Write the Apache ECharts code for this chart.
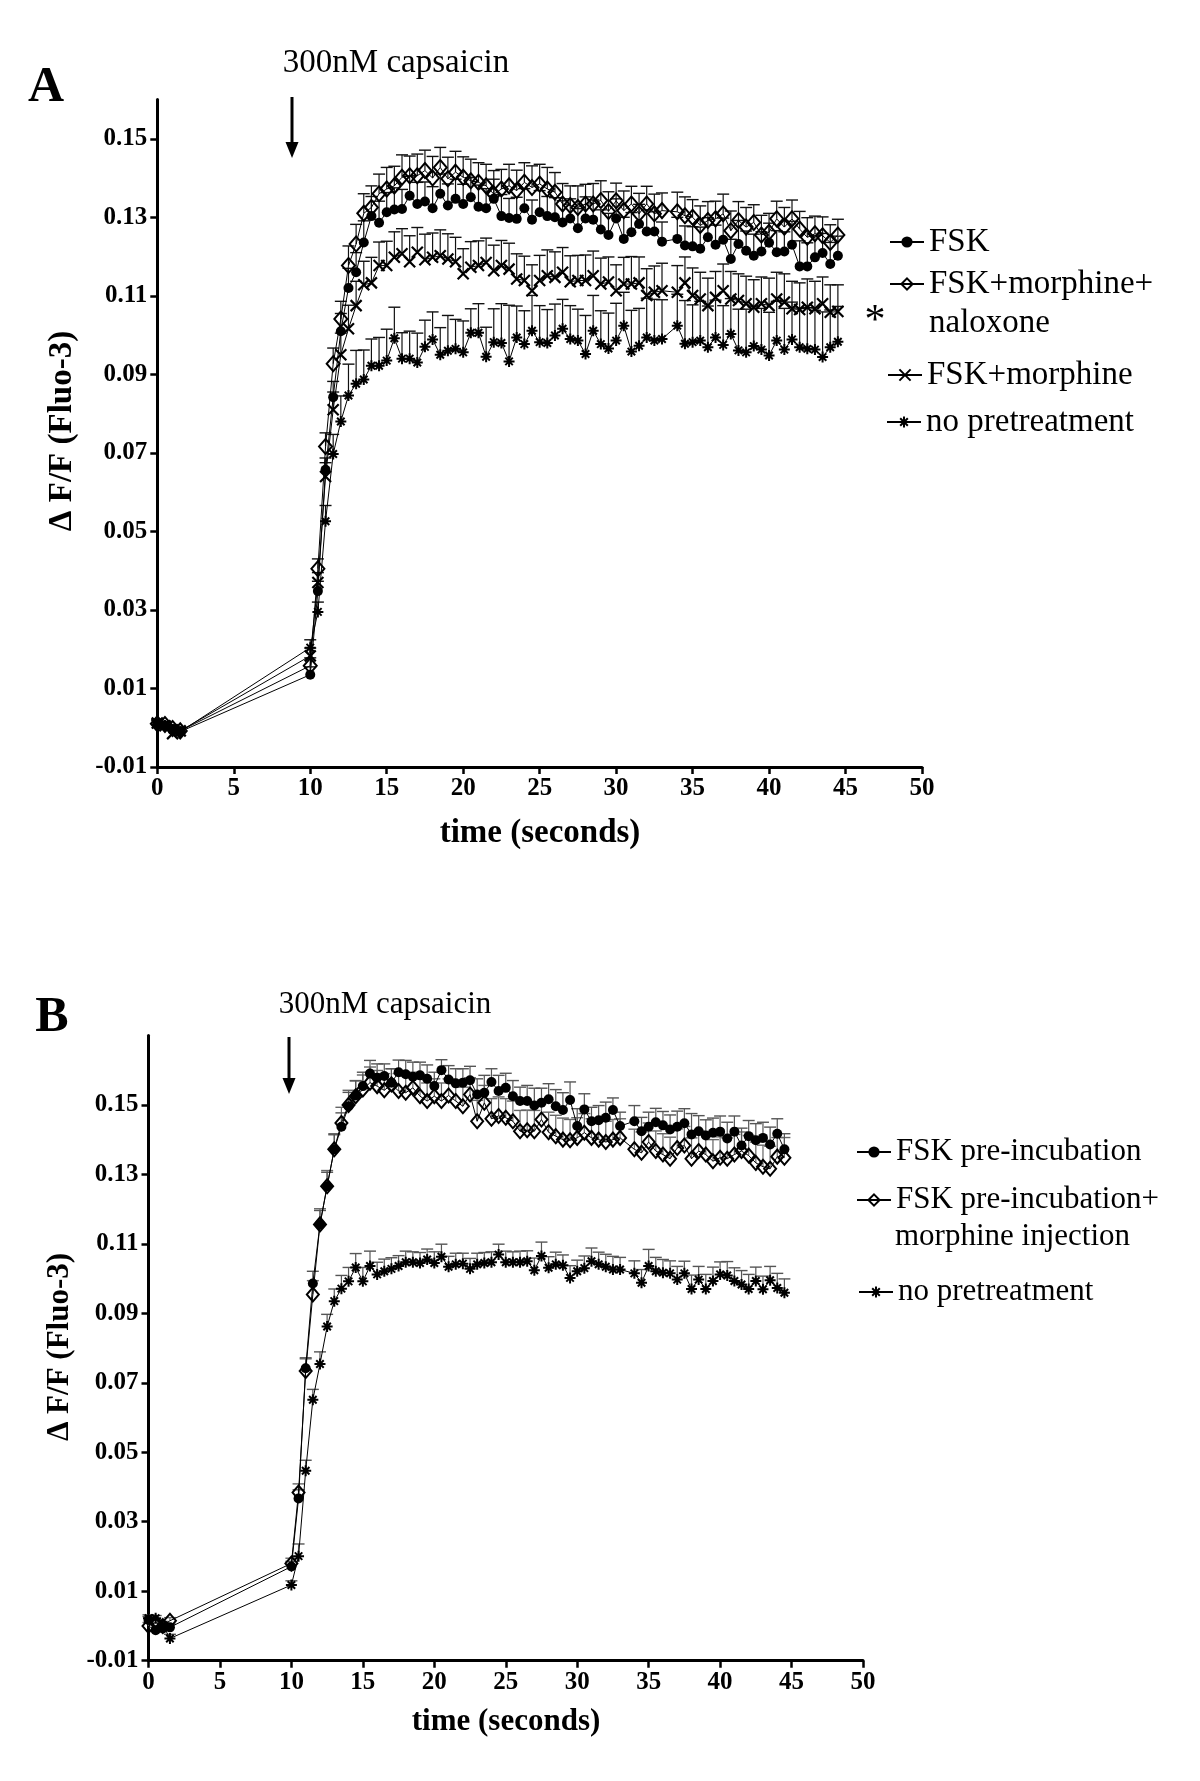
<!DOCTYPE html>
<html><head><meta charset="utf-8">
<script src="https://cdn.jsdelivr.net/npm/echarts@6/dist/echarts.min.js"></script>
<style>html,body{margin:0;padding:0;background:#fff}#c{width:1200px;height:1781px}</style>
</head><body><div id="c"></div>
<script>
const FONT = '"Liberation Serif","Times New Roman",serif';

// ---------- ticks ----------
const xTicks = [0,5,10,15,20,25,30,35,40,45,50];
const yTicks = [-0.01,0.01,0.03,0.05,0.07,0.09,0.11,0.13,0.15];

// ---------- panel A ----------
const timesA = [0,0.5,1,1.5,
 10,10.5,11,11.5,12,12.5,13,13.5,14,14.5,
 15,15.5,16,16.5,17,17.5,18,18.5,19,19.5,
 20,20.5,21,21.5,22,22.5,23,23.5,24,24.5,
 25,25.5,26,26.5,27,27.5,28,28.5,29,29.5,
 30,30.5,31,31.5,32,32.5,33,
 34,34.5,35,35.5,36,36.5,37,37.5,38,38.5,
 39,39.5,40,40.5,41,41.5,42,42.5,43,43.5,
 44,44.5];
const fskA = [0.0010,0.0005,-0.0005,-0.0010,
 0.0135,0.0348,0.0657,0.0842,0.1010,0.1120,0.1160,0.1236,0.1303,0.1286,
 0.1313,0.1320,0.1321,0.1355,0.1334,0.1340,0.1323,0.1360,0.1330,0.1347,
 0.1334,0.1351,0.1327,0.1323,0.1347,0.1303,0.1298,0.1296,0.1323,0.1294,
 0.1313,0.1303,0.1300,0.1287,0.1297,0.1272,0.1297,0.1294,0.1269,0.1255,
 0.1297,0.1245,0.1262,0.1283,0.1264,0.1264,0.1238,
 0.1245,0.1228,0.1226,0.1220,0.1249,0.1230,0.1243,0.1194,0.1232,0.1215,
 0.1202,0.1213,0.1235,0.1211,0.1213,0.1230,0.1175,0.1175,0.1198,0.1209,
 0.1181,0.1202];
const fskAErr = [0.0010,0.0008,0.0010,0.0009,
 0.0020,0.0025,0.0030,0.0040,0.0045,0.0050,0.0050,0.0055,0.0050,0.0055,
 0.0050,0.0055,0.0050,0.0050,0.0055,0.0050,0.0055,0.0050,0.0055,0.0050,
 0.0050,0.0050,0.0055,0.0050,0.0050,0.0055,0.0050,0.0055,0.0050,0.0050,
 0.0055,0.0050,0.0050,0.0055,0.0050,0.0050,0.0055,0.0050,0.0050,0.0055,
 0.0050,0.0055,0.0050,0.0050,0.0055,0.0050,0.0050,
 0.0055,0.0050,0.0050,0.0055,0.0050,0.0050,0.0055,0.0050,0.0060,0.0050,
 0.0055,0.0050,0.0050,0.0055,0.0050,0.0060,0.0065,0.0060,0.0055,0.0050,
 0.0055,0.0050];
const naloxA = [0.0010,0.0008,-0.0002,-0.0008,
 0.0158,0.0405,0.0716,0.0927,0.1041,0.1177,0.1232,0.1310,0.1325,0.1360,
 0.1372,0.1380,0.1402,0.1406,0.1406,0.1419,0.1400,0.1427,0.1398,0.1415,
 0.1402,0.1393,0.1389,0.1380,0.1359,0.1372,0.1380,0.1368,0.1389,0.1376,
 0.1385,0.1372,0.1364,0.1334,0.1330,0.1325,0.1334,0.1334,0.1343,0.1315,
 0.1342,0.1317,0.1334,0.1309,0.1334,0.1309,0.1317,
 0.1314,0.1304,0.1300,0.1279,0.1292,0.1296,0.1309,0.1266,0.1292,0.1275,
 0.1287,0.1255,0.1262,0.1296,0.1275,0.1296,0.1270,0.1249,0.1258,0.1253,
 0.1236,0.1255];
const naloxAErr = [0.0010,0.0008,0.0010,0.0008,
 0.0020,0.0025,0.0035,0.0040,0.0045,0.0050,0.0050,0.0050,0.0055,0.0050,
 0.0055,0.0050,0.0057,0.0050,0.0055,0.0052,0.0055,0.0051,0.0055,0.0053,
 0.0052,0.0055,0.0050,0.0055,0.0060,0.0050,0.0055,0.0052,0.0050,0.0055,
 0.0050,0.0055,0.0050,0.0052,0.0050,0.0055,0.0050,0.0052,0.0050,0.0050,
 0.0045,0.0050,0.0045,0.0052,0.0045,0.0050,0.0045,
 0.0050,0.0048,0.0045,0.0050,0.0048,0.0045,0.0050,0.0050,0.0048,0.0050,
 0.0045,0.0050,0.0048,0.0045,0.0050,0.0048,0.0045,0.0050,0.0045,0.0048,
 0.0045,0.0040];
const morA = [0.0012,0.0005,-0.0015,-0.0008,
 0.0183,0.0370,0.0640,0.0810,0.0950,0.1016,0.1075,0.1128,0.1133,0.1177,
 0.1177,0.1198,0.1207,0.1187,0.1211,0.1192,0.1198,0.1202,0.1194,0.1187,
 0.1156,0.1173,0.1177,0.1185,0.1164,0.1177,0.1168,0.1143,0.1139,0.1113,
 0.1139,0.1151,0.1147,0.1160,0.1136,0.1139,0.1139,0.1151,0.1130,0.1135,
 0.1113,0.1130,0.1130,0.1133,0.1101,0.1109,0.1113,
 0.1109,0.1133,0.1101,0.1092,0.1075,0.1096,0.1113,0.1092,0.1088,0.1080,
 0.1071,0.1080,0.1075,0.1092,0.1084,0.1067,0.1065,0.1071,0.1067,0.1080,
 0.1058,0.1060];
const morAErr = [0.0010,0.0008,0.0010,0.0009,
 0.0020,0.0025,0.0035,0.0045,0.0055,0.0060,0.0062,0.0060,0.0065,0.0060,
 0.0062,0.0065,0.0064,0.0066,0.0063,0.0065,0.0062,0.0066,0.0064,0.0062,
 0.0064,0.0065,0.0063,0.0062,0.0065,0.0064,0.0066,0.0064,0.0062,0.0066,
 0.0064,0.0066,0.0065,0.0063,0.0066,0.0064,0.0065,0.0063,0.0066,0.0064,
 0.0066,0.0068,0.0070,0.0066,0.0068,0.0067,0.0070,
 0.0068,0.0066,0.0070,0.0068,0.0070,0.0066,0.0068,0.0070,0.0068,0.0070,
 0.0070,0.0068,0.0070,0.0068,0.0072,0.0070,0.0068,0.0072,0.0070,0.0068,
 0.0070,0.0068];
const noneA = [0.0008,0.0006,-0.0005,-0.0010,
 0.0204,0.0295,0.0526,0.0697,0.0780,0.0846,0.0876,0.0887,0.0922,0.0922,
 0.0935,0.0992,0.0940,0.0940,0.0930,0.0970,0.0989,0.0950,0.0960,0.0965,
 0.0956,0.1006,0.1006,0.0945,0.0982,0.0980,0.0933,0.0994,0.0977,0.1011,
 0.0982,0.0980,0.0999,0.1016,0.0990,0.0986,0.0952,0.1011,0.0977,0.0966,
 0.0986,0.1024,0.0958,0.0973,0.0994,0.0986,0.0990,
 0.1024,0.0978,0.0982,0.0986,0.0969,0.0994,0.0975,0.1003,0.0961,0.0956,
 0.0972,0.0963,0.0948,0.0986,0.0963,0.0989,0.0969,0.0965,0.0963,0.0944,
 0.0969,0.0983];
const noneAErr = [0.0010,0.0008,0.0010,0.0012,
 0.0020,0.0025,0.0040,0.0050,0.0065,0.0080,0.0085,0.0075,0.0068,0.0072,
 0.0080,0.0079,0.0066,0.0070,0.0075,0.0068,0.0070,0.0069,0.0090,0.0075,
 0.0080,0.0061,0.0074,0.0075,0.0085,0.0100,0.0143,0.0080,0.0085,0.0090,
 0.0093,0.0085,0.0080,0.0075,0.0085,0.0080,0.0098,0.0090,0.0085,0.0090,
 0.0095,0.0085,0.0105,0.0095,0.0100,0.0105,0.0100,
 0.0080,0.0110,0.0095,0.0100,0.0105,0.0095,0.0100,0.0090,0.0105,0.0110,
 0.0100,0.0105,0.0110,0.0100,0.0105,0.0095,0.0100,0.0105,0.0100,0.0115,
 0.0095,0.0090];

// ---------- panel B ----------
const timesB = [0,0.5,1,1.5,
 10,10.5,11,11.5,12,12.5,13,13.5,14,14.5,
 15,15.5,16,16.5,17,17.5,18,18.5,19,19.5,
 20,20.5,21,21.5,22,22.5,23,23.5,24,24.5,
 25,25.5,26,26.5,27,27.5,28,28.5,29,29.5,
 30,30.5,31,31.5,32,32.5,33,
 34,34.5,35,35.5,36,36.5,37,37.5,38,38.5,
 39,39.5,40,40.5,41,41.5,42,42.5,43,43.5,
 44,44.5];
const fskB = [0.0017,-0.0012,-0.0007,-0.0004,
 0.0171,0.0367,0.0742,0.0986,0.1156,0.1266,0.1372,0.1437,0.1496,0.1527,
 0.1554,0.1590,0.1578,0.1583,0.1564,0.1594,0.1588,0.1581,0.1585,0.1575,
 0.1554,0.1600,0.1573,0.1562,0.1564,0.1571,0.1530,0.1535,0.1566,0.1540,
 0.1549,0.1525,0.1511,0.1511,0.1498,0.1506,0.1516,0.1496,0.1485,0.1514,
 0.1439,0.1487,0.1453,0.1456,0.1463,0.1485,0.1439,
 0.1453,0.1424,0.1437,0.1450,0.1441,0.1429,0.1437,0.1447,0.1415,0.1424,
 0.1412,0.1420,0.1423,0.1403,0.1423,0.1383,0.1410,0.1398,0.1405,0.1386,
 0.1417,0.1372];
const fskBErr = [0.0010,0.0008,0.0010,0.0009,
 0.0015,0.0025,0.0030,0.0035,0.0040,0.0040,0.0042,0.0040,0.0040,0.0042,
 0.0040,0.0038,0.0040,0.0035,0.0040,0.0035,0.0040,0.0042,0.0038,0.0040,
 0.0040,0.0030,0.0040,0.0042,0.0040,0.0040,0.0045,0.0050,0.0038,0.0045,
 0.0042,0.0045,0.0040,0.0045,0.0050,0.0042,0.0045,0.0048,0.0050,0.0052,
 0.0050,0.0045,0.0040,0.0042,0.0045,0.0035,0.0040,
 0.0045,0.0040,0.0042,0.0040,0.0040,0.0042,0.0045,0.0042,0.0060,0.0045,
 0.0045,0.0042,0.0045,0.0047,0.0045,0.0050,0.0045,0.0048,0.0045,0.0050,
 0.0043,0.0045];
const morB = [0.0000,0.0010,0.0000,0.0015,
 0.0180,0.0384,0.0734,0.0954,0.1156,0.1266,0.1372,0.1448,0.1500,0.1525,
 0.1544,0.1564,0.1554,0.1542,0.1559,0.1540,0.1535,0.1549,0.1525,0.1511,
 0.1525,0.1511,0.1527,0.1511,0.1496,0.1530,0.1453,0.1506,0.1460,0.1468,
 0.1463,0.1453,0.1424,0.1427,0.1424,0.1458,0.1421,0.1410,0.1400,0.1398,
 0.1405,0.1420,0.1405,0.1400,0.1393,0.1400,0.1405,
 0.1372,0.1362,0.1393,0.1367,0.1357,0.1345,0.1376,0.1383,0.1345,0.1367,
 0.1357,0.1338,0.1348,0.1345,0.1357,0.1367,0.1354,0.1333,0.1322,0.1316,
 0.1351,0.1348];
const morBErr = [0.0010,0.0008,0.0010,0.0009,
 0.0015,0.0025,0.0035,0.0040,0.0045,0.0045,0.0045,0.0045,0.0042,0.0045,
 0.0042,0.0045,0.0045,0.0048,0.0045,0.0050,0.0048,0.0045,0.0050,0.0052,
 0.0050,0.0052,0.0048,0.0050,0.0055,0.0048,0.0060,0.0050,0.0058,0.0055,
 0.0055,0.0058,0.0060,0.0058,0.0060,0.0050,0.0058,0.0060,0.0062,0.0060,
 0.0058,0.0055,0.0055,0.0058,0.0060,0.0058,0.0055,
 0.0058,0.0060,0.0055,0.0058,0.0060,0.0062,0.0055,0.0055,0.0060,0.0058,
 0.0060,0.0062,0.0060,0.0060,0.0058,0.0055,0.0058,0.0060,0.0062,0.0065,
 0.0055,0.0058];
const noneB = [0.0022,0.0022,0.0003,-0.0036,
 0.0118,0.0201,0.0447,0.0651,0.0754,0.0862,0.0935,0.0971,0.0992,0.1032,
 0.0992,0.1036,0.1012,0.1021,0.1028,0.1036,0.1047,0.1047,0.1045,0.1055,
 0.1045,0.1063,0.1034,0.1041,0.1043,0.1028,0.1041,0.1045,0.1047,0.1069,
 0.1047,0.1047,0.1047,0.1050,0.1024,0.1065,0.1031,0.1041,0.1038,0.1002,
 0.1021,0.1030,0.1050,0.1041,0.1034,0.1026,0.1026,
 0.1015,0.0988,0.1036,0.1021,0.1017,0.1015,0.0997,0.1015,0.0970,0.0997,
 0.0970,0.0993,0.1012,0.1009,0.0993,0.0983,0.0970,0.0993,0.0969,0.0995,
 0.0973,0.0959];
const noneBErr = [0.0010,0.0008,0.0010,0.0012,
 0.0012,0.0035,0.0030,0.0030,0.0035,0.0035,0.0035,0.0038,0.0040,0.0040,
 0.0040,0.0043,0.0035,0.0035,0.0032,0.0030,0.0032,0.0030,0.0030,0.0030,
 0.0032,0.0036,0.0030,0.0032,0.0030,0.0030,0.0032,0.0030,0.0030,0.0030,
 0.0032,0.0030,0.0032,0.0030,0.0035,0.0040,0.0032,0.0035,0.0030,0.0035,
 0.0032,0.0035,0.0038,0.0035,0.0036,0.0038,0.0035,
 0.0036,0.0038,0.0048,0.0040,0.0038,0.0036,0.0038,0.0035,0.0040,0.0038,
 0.0042,0.0040,0.0036,0.0040,0.0038,0.0040,0.0042,0.0040,0.0038,0.0040,
 0.0042,0.0040];

// ---------- names ----------
const namesA = ['FSK','FSK+morphine+naloxone','FSK+morphine','no pretreatment'];
const namesB = ['FSK pre-incubation','FSK pre-incubation+morphine injection','no pretreatment '];
const legendLabel = {
  'FSK':'FSK', 'FSK+morphine+naloxone':'FSK+morphine+', 'FSK+morphine':'FSK+morphine',
  'no pretreatment':'no pretreatment', 'FSK pre-incubation':'FSK pre-incubation',
  'FSK pre-incubation+morphine injection':'FSK pre-incubation+', 'no pretreatment ':'no pretreatment'
};

const SYM_X = 'path://M0 0L10 10M10 0L0 10';
const SYM_STAR = 'path://M5 0L5 10M0 5L10 5M1.6 1.6L8.4 8.4M8.4 1.6L1.6 8.4';

function errSeries(g, times, vals, errs, color, cap) {
  return {
    type: 'custom', xAxisIndex: g, yAxisIndex: g, silent: true, animation: false, z: 2,
    data: times.map((t, i) => [t, vals[i], errs[i]]),
    encode: { x: 0, y: 1 },
    renderItem: function (params, api) {
      const x = api.value(0), y = api.value(1), e = api.value(2);
      const p0 = api.coord([x, y]), p1 = api.coord([x, y + e]);
      return { type: 'group', children: [
        { type: 'line', shape: { x1: p0[0], y1: p0[1], x2: p1[0], y2: p1[1] }, style: { stroke: color, lineWidth: 1.2 } },
        { type: 'line', shape: { x1: p1[0] - cap / 2, y1: p1[1], x2: p1[0] + cap / 2, y2: p1[1] }, style: { stroke: color, lineWidth: 1.4 } }
      ]};
    }
  };
}
function lineSeries(g, name, times, vals, symbol, size, fill, bw) {
  return {
    type: 'line', name: name, xAxisIndex: g, yAxisIndex: g, animation: false, z: 3,
    data: times.map((t, i) => [t, vals[i]]),
    symbol: symbol, symbolSize: size, showSymbol: true, showAllSymbol: true,
    lineStyle: { color: '#000', width: 1 },
    itemStyle: { color: fill, borderColor: '#000', borderWidth: bw },
    emphasis: { disabled: true }
  };
}

const axisLabelStyle = { fontFamily: FONT, fontWeight: 'bold', fontSize: 25, color: '#000' };
function xAxisCfg(g) {
  return { gridIndex: g, type: 'value', min: 0, max: 50, interval: 5,
    axisLine: { onZero: false, lineStyle: { color: '#000', width: 3 } },
    axisTick: { length: 7, lineStyle: { color: '#000', width: 2.5 } },
    axisLabel: Object.assign({ margin: 9, customValues: xTicks }, axisLabelStyle),
    splitLine: { show: false } };
}
function yAxisCfg(g, max) {
  return { gridIndex: g, type: 'value', min: -0.01, max: max,
    axisLine: { show: true, onZero: false, lineStyle: { color: '#000', width: 3 } },
    axisTick: { show: true, length: 7, customValues: yTicks, lineStyle: { color: '#000', width: 2.5 } },
    axisLabel: Object.assign({ margin: 10, customValues: yTicks, formatter: v => Number(v).toFixed(2) }, axisLabelStyle),
    splitLine: { show: false } };
}
function legendCfg(name, left, cy, fs) {
  return { data: [name], left: left, top: cy - fs / 2, orient: 'vertical', padding: 0,
    itemWidth: 34, itemHeight: 14, selectedMode: false,
    formatter: n => legendLabel[n],
    textStyle: { fontFamily: FONT, fontSize: fs, color: '#000', lineHeight: fs } };
}
function txt(x, y, s, size, bold, align, rot) {
  return { type: 'text', x: x, y: y, rotation: rot || 0, silent: true,
    style: { text: s, fill: '#000', font: (bold ? 'bold ' : '') + size + 'px ' + FONT,
      textAlign: align || 'center', textVerticalAlign: 'middle' } };
}
function arrow(x, y1, y2) {
  return { type: 'group', silent: true, children: [
    { type: 'line', shape: { x1: x, y1: y1, x2: x, y2: y2 - 12 }, style: { stroke: '#000', lineWidth: 3 } },
    { type: 'polygon', shape: { points: [[x - 6.5, y2 - 16], [x + 6.5, y2 - 16], [x, y2]] }, style: { fill: '#000' } }
  ]};
}

const series = [
  errSeries(0, timesA, naloxA, naloxAErr, '#111', 12),
  errSeries(0, timesA, fskA, fskAErr, '#111', 12),
  errSeries(0, timesA, morA, morAErr, '#111', 12),
  errSeries(0, timesA, noneA, noneAErr, '#111', 12),
  lineSeries(0, namesA[3], timesA, noneA, SYM_STAR, 11, '#000', 2),
  lineSeries(0, namesA[2], timesA, morA, SYM_X, 11, '#000', 2.2),
  lineSeries(0, namesA[0], timesA, fskA, 'circle', 10, '#000', 0),
  lineSeries(0, namesA[1], timesA, naloxA, 'diamond', [13, 15], 'rgba(255,255,255,0)', 2),
  errSeries(1, timesB, morB, morBErr, '#666', 12),
  errSeries(1, timesB, fskB, fskBErr, '#555', 12),
  errSeries(1, timesB, noneB, noneBErr, '#555', 12),
  lineSeries(1, namesB[2], timesB, noneB, SYM_STAR, 11, '#000', 2),
  lineSeries(1, namesB[0], timesB, fskB, 'circle', 10, '#000', 0),
  lineSeries(1, namesB[1], timesB, morB, 'diamond', [12, 14], 'rgba(255,255,255,0)', 2)
];

const chart = echarts.init(document.getElementById('c'), null, { renderer: 'canvas' });
chart.setOption({
  backgroundColor: '#fff',
  animation: false,
  grid: [
    { left: 157.3, top: 99.5, width: 764.7, height: 667.5 },
    { left: 148.5, top: 1035.4, width: 714.5, height: 625.3 }
  ],
  xAxis: [xAxisCfg(0), xAxisCfg(1)],
  yAxis: [yAxisCfg(0, 0.16), yAxisCfg(1, 0.17)],
  legend: [
    legendCfg(namesA[0], 889, 242, 33),
    legendCfg(namesA[1], 889, 284, 33),
    legendCfg(namesA[2], 887, 375, 33),
    legendCfg(namesA[3], 886, 422, 33),
    legendCfg(namesB[0], 856, 1152, 31),
    legendCfg(namesB[1], 856, 1200, 31),
    legendCfg(namesB[2], 858, 1292, 31)
  ],
  series: series,
  graphic: [
    txt(46, 88, 'A', 50, true),
    txt(52, 1018, 'B', 50, true),
    txt(396, 63, '300nM capsaicin', 33, false),
    txt(385, 1005, '300nM capsaicin', 31, false),
    arrow(292, 97, 158),
    arrow(289, 1037, 1094),
    txt(62, 431, '\u0394 F/F (Fluo-3)', 33, true, 'center', Math.PI / 2),
    txt(60, 1347, '\u0394 F/F (Fluo-3)', 31, true, 'center', Math.PI / 2),
    txt(540, 833, 'time (seconds)', 33, true),
    txt(506, 1722, 'time (seconds)', 31, true),
    txt(875, 322, '*', 42, false),
    txt(929, 323, 'naloxone', 33, false, 'left'),
    txt(895, 1237, 'morphine injection', 31, false, 'left')
  ]
});
</script>
</body></html>
